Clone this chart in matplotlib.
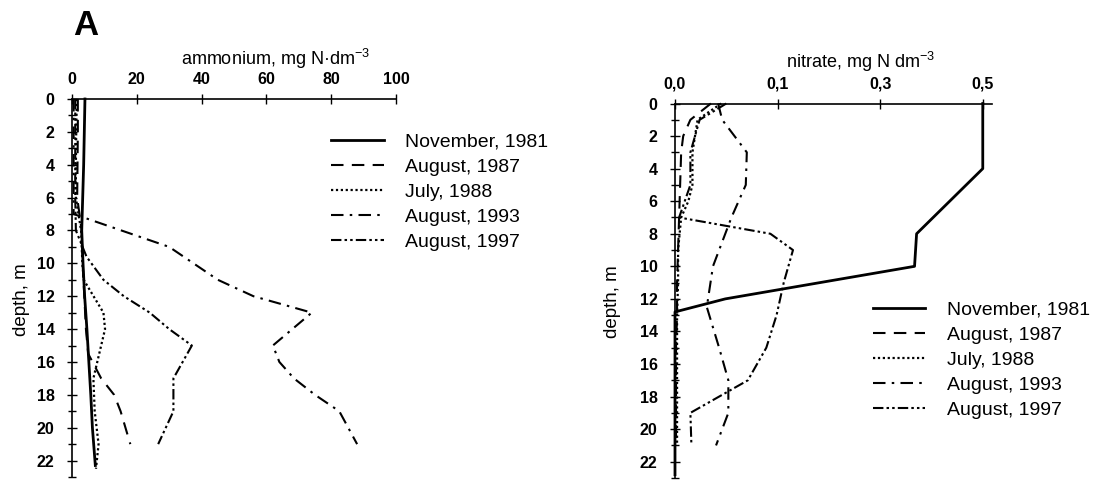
import numpy as np
import matplotlib
matplotlib.use("Agg")
import matplotlib.pyplot as plt
from matplotlib.ticker import MultipleLocator, FixedLocator, FixedFormatter

plt.rcParams['font.family'] = ['Liberation Sans', 'DejaVu Sans']
plt.rcParams['mathtext.fontset'] = 'custom'
plt.rcParams['mathtext.rm'] = 'Liberation Sans'
plt.rcParams['mathtext.it'] = 'Liberation Sans:italic'
plt.rcParams['mathtext.bf'] = 'Liberation Sans:bold'

# ---------------- data ----------------
series_names = ["November, 1981", "August, 1987", "July, 1988", "August, 1993", "August, 1997"]

# Ammonium (mg N dm-3) profiles
amm_nov81_depth = [0, 2, 4, 6, 8, 10, 12, 14, 16, 18, 20, 22.3]
amm_nov81_val = [4.0, 3.8, 3.6, 3.3, 3.0, 3.4, 3.9, 4.6, 5.2, 5.8, 6.3, 7.2]

amm_aug87_depth = [0, 2, 4, 6, 8, 10, 12, 14, 15.5, 17, 18, 19, 21]
amm_aug87_val = [1.8, 1.8, 1.7, 1.6, 3.0, 3.3, 3.8, 4.3, 5.0, 9.0, 13.0, 15.0, 18.0]

amm_jul88_depth = [0, 2, 4, 6, 8, 10, 11, 13, 14, 15, 17, 19, 21, 22.5]
amm_jul88_val = [1.5, 1.3, 1.2, 1.2, 2.8, 3.2, 3.6, 9.7, 10.2, 9.0, 6.6, 7.0, 8.2, 7.4]

amm_aug93_depth = [0, 2, 4, 6, 7, 9, 11, 12, 13, 15, 16, 17, 18, 19, 21]
amm_aug93_val = [0.5, 0.5, 0.5, 0.5, 0.5, 30, 45, 56, 74, 62, 64, 68.5, 75, 82.5, 88]

amm_aug97_depth = [0, 2, 4, 6, 8, 9.6, 11, 12, 13, 14, 15, 17, 19, 21]
amm_aug97_val = [1.0, 1.0, 1.0, 1.0, 1.2, 4.5, 9.7, 16, 24, 30, 37, 31.3, 31.3, 26.6]

# Nitrate (mg N dm-3) profiles
nit_nov81_depth = [0, 4, 8, 10, 12, 12.8, 22.8]
nit_nov81_val = [0.5, 0.5, 0.371, 0.367, 0.049, 0.0, 0.0]

nit_aug87_depth = [0, 1, 2, 3, 5, 7, 9, 11, 13, 15, 17, 19, 21]
nit_aug87_val = [0.035, 0.015, 0.008, 0.006, 0.005, 0.004, 0.003, 0.002, 0.002, 0.001, 0.001, 0.001, 0.001]

nit_jul88_depth = [0, 1, 3, 5, 6, 7, 9, 11, 13, 15, 17, 19, 21]
nit_jul88_val = [0.045, 0.022, 0.017, 0.017, 0.013, 0.006, 0.003, 0.003, 0.002, 0.002, 0.002, 0.002, 0.002]

nit_aug93_depth = [0, 1, 3, 5, 7, 10, 12.5, 15, 17, 19, 21]
nit_aug93_val = [0.042, 0.046, 0.070, 0.069, 0.055, 0.037, 0.031, 0.043, 0.052, 0.052, 0.040]

nit_aug97_depth = [0, 1, 3, 5, 7, 8, 9, 11, 13, 15, 17, 19, 21]
nit_aug97_val = [0.050, 0.024, 0.015, 0.015, 0.004, 0.093, 0.130, 0.112, 0.099, 0.089, 0.071, 0.015, 0.016]

amm_ticks = [0, 20, 40, 60, 80, 100]
nit_ticks = [0.0, 0.1, 0.3, 0.5]
nit_tick_labels = ["0,0", "0,1", "0,3", "0,5"]
depth_ticks = list(range(0, 23, 2))

# ---------------- styles ----------------
styles = [
    dict(linestyle='-', lw=2.0),
    dict(dashes=(6, 4), lw=1.5),
    dict(dashes=(1, 1.2), lw=1.6),
    dict(dashes=(6, 3, 1.2, 3), lw=1.5),
    dict(dashes=(5, 1.5, 1.2, 1.5, 1.2, 1.5), lw=1.5),
]

W, H = 1095, 480
fig = plt.figure(figsize=(W / 100, H / 100), dpi=100)

def px_axes(x0, y0, x1, y1):
    return fig.add_axes([x0 / W, 1 - y1 / H, (x1 - x0) / W, (y1 - y0) / H])

axL = px_axes(72, 99, 396, 477)
axR = px_axes(675, 103.5, 992, 478)

# piecewise-linear nitrate scale (0->0, 0.1->1, 0.3->2, 0.5->3)
def fwd(v):
    v = np.asarray(v, dtype=float)
    return np.where(v <= 0.1, v * 10.0, 1.0 + (v - 0.1) * 5.0)

def inv(p):
    p = np.asarray(p, dtype=float)
    return np.where(p <= 1.0, p / 10.0, 0.1 + (p - 1.0) / 5.0)

axR.set_xscale('function', functions=(fwd, inv))

amm_sets = [(amm_nov81_val, amm_nov81_depth), (amm_aug87_val, amm_aug87_depth),
            (amm_jul88_val, amm_jul88_depth), (amm_aug93_val, amm_aug93_depth),
            (amm_aug97_val, amm_aug97_depth)]
nit_sets = [(nit_nov81_val, nit_nov81_depth), (nit_aug87_val, nit_aug87_depth),
            (nit_jul88_val, nit_jul88_depth), (nit_aug93_val, nit_aug93_depth),
            (nit_aug97_val, nit_aug97_depth)]

for ax, sets in ((axL, amm_sets), (axR, nit_sets)):
    for (x, y), name, st in zip(sets, series_names, styles):
        ax.plot(x, y, color='black', label=name, clip_on=False, **st)

axL.set_xlim(0, 100)
axR.set_xlim(0, 0.518)
for ax in (axL, axR):
    ax.set_ylim(23, 0)
    ax.spines['right'].set_visible(False)
    ax.spines['bottom'].set_visible(False)
    ax.spines['top'].set_linewidth(1.2)
    ax.spines['left'].set_linewidth(1.2)
    ax.xaxis.tick_top()
    ax.yaxis.set_major_locator(FixedLocator(depth_ticks))
    ax.yaxis.set_minor_locator(MultipleLocator(1))
    ax.tick_params(axis='both', which='both', direction='inout', color='black', width=1.0)
    ax.tick_params(axis='both', which='major', length=7)
    ax.tick_params(axis='y', which='minor', length=6)
    ax.tick_params(axis='y', which='major', pad=9, labelsize=11.5)
    ax.tick_params(axis='x', which='major', pad=5, labelsize=11.5)
    ax.tick_params(axis='x', which='minor', length=0)
    ax.set_facecolor('white')

axL.xaxis.set_major_locator(FixedLocator(amm_ticks))
axR.xaxis.set_major_locator(FixedLocator(nit_ticks))
axR.xaxis.set_major_formatter(FixedFormatter(nit_tick_labels))
axR.xaxis.set_minor_locator(FixedLocator([]))
for ax in (axL, axR):
    for lab in ax.get_yticklabels() + ax.get_xticklabels():
        lab.set_fontweight('bold')

# axis titles
axL.text(0.627, 1.106, "ammonium, mg N\u00b7dm$^{-3}$", transform=axL.transAxes,
         ha='center', va='center', fontsize=13)
axR.text(0.584, 1.110, "nitrate, mg N dm$^{-3}$", transform=axR.transAxes,
         ha='center', va='center', fontsize=13)
axL.text(-0.157, 0.468, "depth, m", transform=axL.transAxes, rotation=90,
         ha='center', va='center', fontsize=13.5)
axR.text(-0.196, 0.472, "depth, m", transform=axR.transAxes, rotation=90,
         ha='center', va='center', fontsize=13.5)

fig.text(73 / W, 1 - 35 / H, "A", fontsize=25, fontweight='bold', va='baseline', ha='left')

# legends
leg_kw = dict(frameon=False, fontsize=14, handlelength=2.7, handletextpad=1.1,
              labelspacing=0.38, borderpad=0, borderaxespad=0, loc='upper left')
axL.legend(bbox_to_anchor=(331 / W, 1 - 133 / H), bbox_transform=fig.transFigure, **leg_kw)
axR.legend(bbox_to_anchor=(873 / W, 1 - 301 / H), bbox_transform=fig.transFigure, **leg_kw)

fig.savefig("out.png", dpi=100, facecolor='white')
